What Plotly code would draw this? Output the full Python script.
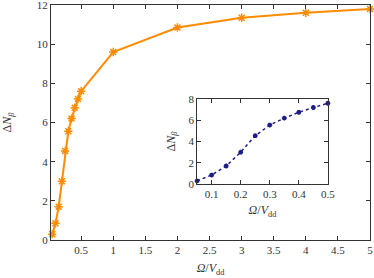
import plotly.graph_objects as go

omega_main = [0.05, 0.1, 0.15, 0.2, 0.25, 0.3, 0.35, 0.4, 0.45, 0.5, 1, 2, 3, 4, 5]
dN_main = [0.3, 0.85, 1.7, 3.0, 4.55, 5.55, 6.2, 6.75, 7.2, 7.6, 9.6, 10.85, 11.35, 11.6, 11.8]
omega_inset = [0.05, 0.1, 0.15, 0.2, 0.25, 0.3, 0.35, 0.4, 0.45, 0.5]
dN_inset = [0.3, 0.85, 1.7, 3.0, 4.55, 5.55, 6.2, 6.75, 7.2, 7.6]

main_xticks = [0.5, 1, 1.5, 2, 2.5, 3, 3.5, 4, 4.5, 5]
main_yticks = [0, 2, 4, 6, 8, 10, 12]
inset_xticks = [0.1, 0.2, 0.3, 0.4, 0.5]
inset_yticks = [0, 2, 4, 6, 8]

FONT = "Liberation Serif"
AX = "#333333"

fig = go.Figure()
fig.add_trace(go.Scatter(x=omega_main, y=dN_main, mode="lines+markers",
                         line=dict(color="#ff8c00", width=2),
                         marker=dict(symbol="asterisk-open", size=7, color="#ff8c00",
                                     line=dict(width=1.5, color="#ff8c00")),
                         xaxis="x", yaxis="y", showlegend=False, cliponaxis=False))
fig.add_trace(go.Scatter(x=omega_inset, y=dN_inset, mode="lines+markers",
                         line=dict(color="#1c1c8a", width=1.5, dash="dot"),
                         marker=dict(symbol="asterisk-open", size=4, color="#1c1c8a",
                                     line=dict(width=1.5, color="#1c1c8a")),
                         xaxis="x2", yaxis="y2", showlegend=False, cliponaxis=False))

common = dict(showgrid=False, zeroline=False, showline=True, linecolor=AX, linewidth=1,
              mirror="ticks", ticks="inside", ticklen=4, tickcolor=AX, automargin=False,
              ticklabeloverflow="allow",
              tickfont=dict(family=FONT, size=11, color="#333"))

fig.update_layout(
    width=374, height=278,
    margin=dict(l=51, r=4, t=5, b=38),
    paper_bgcolor="white", plot_bgcolor="white",
    font=dict(family=FONT, color="#333"),
    xaxis=dict(range=[0.03, 5], tickvals=main_xticks, ticktext=[str(v) for v in main_xticks],
               title=dict(text="<i>Ω</i>/<i>V</i><sub>dd</sub>", font=dict(family=FONT, size=12), standoff=8),
               **common),
    yaxis=dict(range=[0, 12], tickvals=main_yticks,
               title=dict(text="Δ<i>N</i><sub><i>β</i></sub>", font=dict(family=FONT, size=12), standoff=32),
               **common),
    xaxis2=dict(domain=[0.458, 0.868], anchor="y2", range=[0.05, 0.5], tickvals=inset_xticks,
                ticktext=[str(v) for v in inset_xticks],
                title=dict(text="<i>Ω</i>/<i>V</i><sub>dd</sub>", font=dict(family=FONT, size=12), standoff=6),
                **common),
    yaxis2=dict(domain=[0.238, 0.6], anchor="x2", range=[0, 8], tickvals=inset_yticks,
                title=dict(text="Δ<i>N</i><sub><i>β</i></sub>", font=dict(family=FONT, size=12), standoff=10),
                **common),
)

fig.write_html("out.html", config={"displayModeBar": False},
               post_script="document.body.style.margin='0';document.body.style.overflow='hidden';")
